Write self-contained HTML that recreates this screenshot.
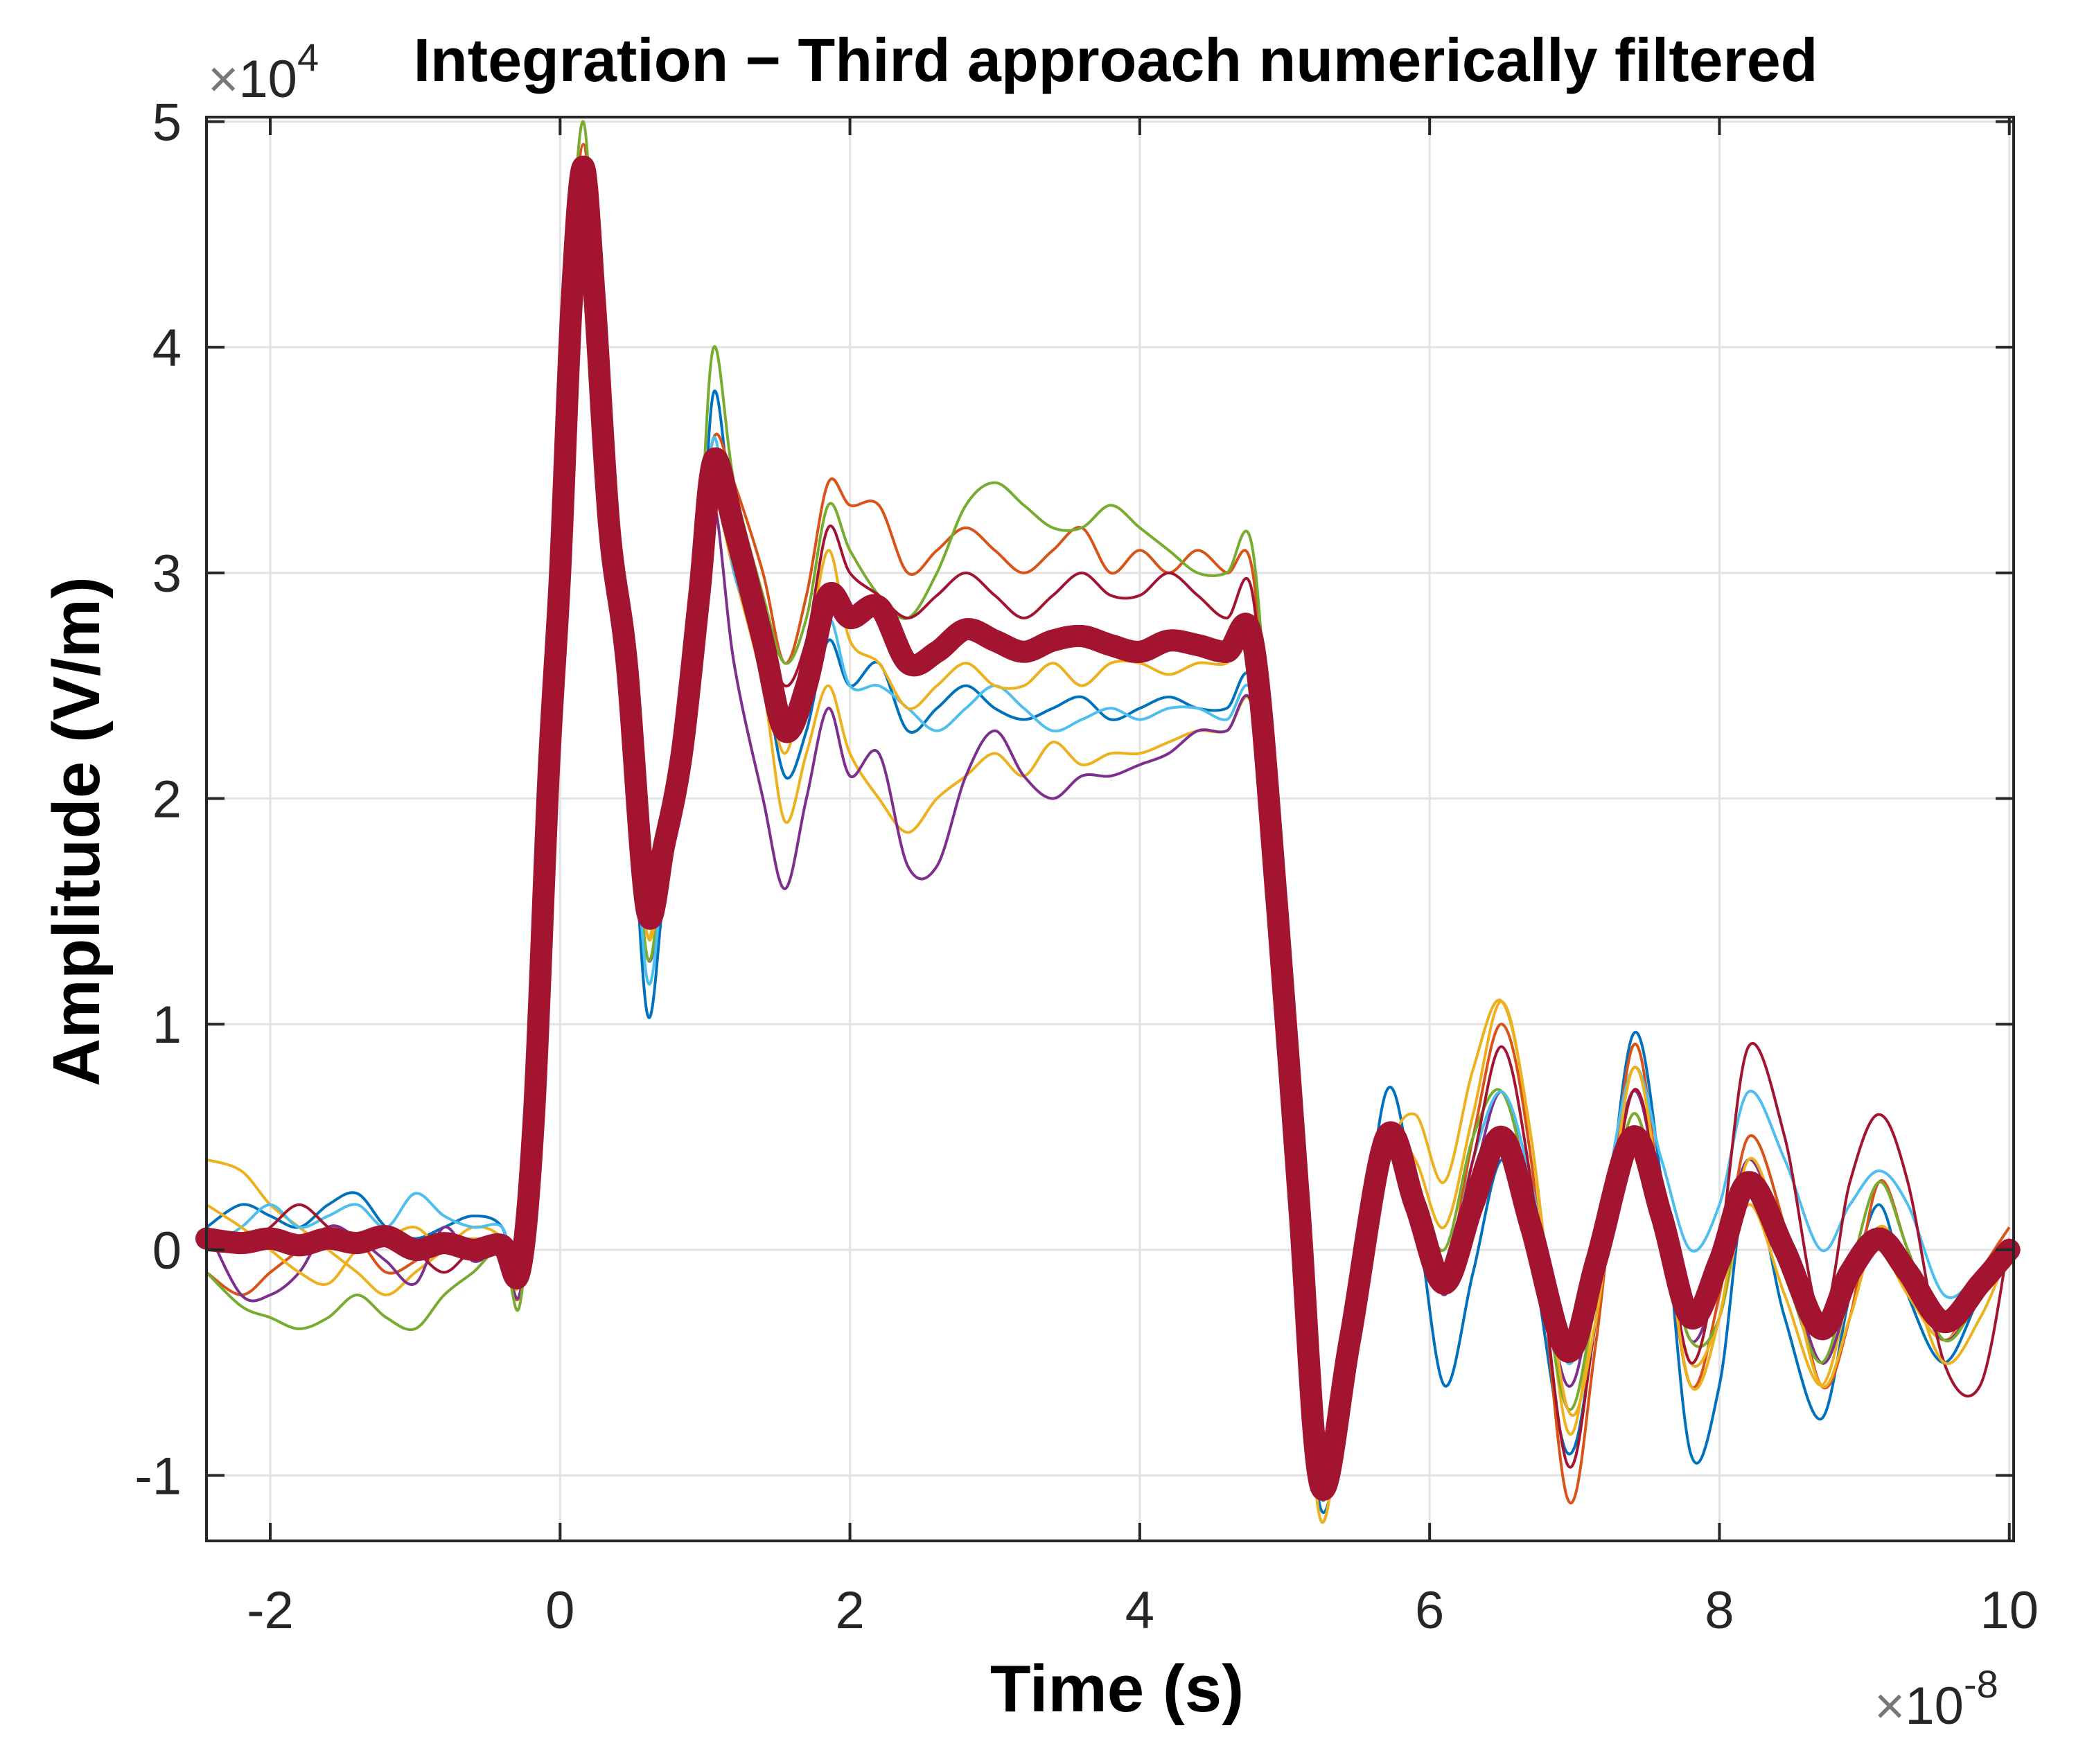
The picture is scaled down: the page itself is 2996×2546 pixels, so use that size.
<!DOCTYPE html>
<html><head><meta charset="utf-8"><style>
html,body{margin:0;padding:0;background:#fff}
svg{display:block}
text{font-family:"Liberation Sans",Arial,sans-serif;fill:#262626}
</style></head><body>
<svg id="chart" width="2996" height="2546" viewBox="0 0 2996 2546" xmlns="http://www.w3.org/2000/svg">
<rect x="0" y="0" width="2996" height="2546" fill="#fff"/>
<g id="grid"></g>
<g id="series"></g>
<g id="axes"></g>
<text x="1610" y="117" text-anchor="middle" font-size="88" font-weight="bold" style="fill:#000">Integration − Third approach numerically filtered</text>
<text x="1612" y="2470" text-anchor="middle" font-size="96" font-weight="bold" style="fill:#000">Time (s)</text>
<text transform="translate(143,1200) rotate(-90)" text-anchor="middle" font-size="96" font-weight="bold" style="fill:#000">Amplitude (V/m)</text>
<text x="300" y="140" font-size="76"><tspan style="fill:#777">×</tspan>10<tspan dy="-38" font-size="56">4</tspan></text>
<text x="2705" y="2488" font-size="76"><tspan style="fill:#777">×</tspan>10<tspan dy="-38" font-size="56">-8</tspan></text>
</svg>
<script>
const T = [-2.44,-2.2,-2.0,-1.8,-1.6,-1.4,-1.2,-1.0,-0.8,-0.6,-0.4,-0.28,-0.18,-0.08,0.0,0.08,0.16,0.24,0.34,0.46,0.6,0.72,0.84,0.96,1.06,1.2,1.4,1.55,1.7,1.85,2.0,2.2,2.4,2.6,2.8,3.0,3.2,3.4,3.6,3.8,4.0,4.2,4.4,4.6,4.78,4.95,5.1,5.25,5.45,5.7,5.9,6.1,6.3,6.5,6.7,6.95,7.15,7.4,7.6,7.8,8.0,8.2,8.45,8.7,8.9,9.1,9.3,9.55,9.8,10.0];
const xTicks = [-2,0,2,4,6,8,10];
const yTicks = [-1,0,1,2,3,4,5];
const s1 = [0.1,0.2,0.15,0.1,0.2,0.25,0.1,0.05,0.1,0.15,0.1,-0.15,0.5,2.0,3.0,4.1,4.7,4.1,3.1,2.4,1.05,1.6,2.0,2.8,3.8,3.2,2.6,2.1,2.3,2.7,2.5,2.6,2.3,2.4,2.5,2.4,2.35,2.4,2.45,2.35,2.4,2.45,2.4,2.4,2.5,1.4,0.1,-1.15,-0.5,0.7,0.2,-0.6,-0.1,0.4,0.0,-0.9,-0.3,0.95,0.3,-0.9,-0.6,0.3,-0.3,-0.75,-0.2,0.2,-0.2,-0.5,-0.2,0.0];
const s2 = [-0.1,-0.2,-0.1,0.0,0.1,0.05,-0.1,-0.05,0.05,0.0,0.0,-0.2,0.6,2.2,3.1,4.3,4.9,4.3,3.3,2.7,1.5,1.8,2.3,3.0,3.6,3.4,3.0,2.6,2.9,3.4,3.3,3.3,3.0,3.1,3.2,3.1,3.0,3.1,3.2,3.0,3.1,3.0,3.1,3.0,3.0,1.6,0.2,-1.1,-0.3,0.5,0.3,-0.1,0.5,1.0,0.4,-1.1,-0.4,0.9,0.2,-0.6,-0.2,0.5,0.1,-0.6,-0.3,0.3,0.0,-0.4,-0.1,0.1];
const s3 = [0.4,0.35,0.2,0.1,0.0,-0.1,-0.2,-0.1,0.0,0.1,0.05,-0.15,0.5,2.0,2.9,4.1,4.8,4.2,3.1,2.5,1.4,1.9,2.3,2.7,3.3,3.0,2.5,1.9,2.2,2.5,2.2,2.0,1.85,2.0,2.1,2.2,2.1,2.25,2.15,2.2,2.2,2.25,2.3,2.3,2.4,1.4,0.1,-1.2,-0.4,0.4,0.6,0.3,0.8,1.1,0.5,-0.8,-0.2,0.6,0.1,-0.5,-0.3,0.2,-0.2,-0.6,-0.2,0.0,-0.2,-0.4,-0.2,0.0];
const s4 = [0.1,-0.2,-0.2,-0.1,0.1,0.05,-0.05,-0.15,0.1,-0.05,0.0,-0.2,0.5,2.0,2.9,4.1,4.8,4.1,3.0,2.4,1.3,1.7,2.1,2.7,3.3,2.6,2.0,1.6,2.0,2.4,2.1,2.2,1.7,1.7,2.1,2.3,2.1,2.0,2.1,2.1,2.15,2.2,2.3,2.3,2.4,1.3,0.0,-1.1,-0.4,0.4,0.3,-0.2,0.3,0.7,0.2,-0.6,-0.1,0.7,0.2,-0.4,-0.1,0.4,0.0,-0.5,-0.2,0.1,-0.1,-0.4,-0.2,0.0];
const s5 = [-0.1,-0.25,-0.3,-0.35,-0.3,-0.2,-0.3,-0.35,-0.2,-0.1,0.0,-0.25,0.6,2.2,3.1,4.4,5.0,4.3,3.2,2.5,1.3,1.8,2.3,3.1,4.0,3.4,2.9,2.6,2.8,3.3,3.1,2.9,2.8,3.0,3.3,3.4,3.3,3.2,3.2,3.3,3.2,3.1,3.0,3.0,3.1,1.6,0.2,-1.1,-0.4,0.5,0.3,0.0,0.5,0.7,0.2,-0.7,-0.2,0.6,0.1,-0.4,-0.3,0.3,-0.1,-0.5,-0.1,0.3,0.0,-0.4,-0.2,0.0];
const s6 = [0.0,0.1,0.2,0.1,0.15,0.2,0.1,0.25,0.15,0.1,0.1,-0.1,0.6,2.1,3.0,4.2,4.8,4.2,3.2,2.5,1.2,1.7,2.1,2.8,3.6,3.0,2.7,2.3,2.4,2.8,2.5,2.5,2.4,2.3,2.4,2.5,2.4,2.3,2.35,2.4,2.35,2.4,2.4,2.35,2.45,1.4,0.1,-1.1,-0.4,0.5,0.3,-0.1,0.4,0.7,0.3,-0.5,0.0,0.8,0.4,0.0,0.2,0.7,0.4,0.0,0.2,0.35,0.2,-0.2,-0.1,0.0];
const s7 = [0.0,0.0,0.1,0.2,0.1,0.0,0.1,0.0,-0.1,0.0,0.0,-0.1,0.6,2.1,3.0,4.2,4.8,4.2,3.2,2.5,1.5,1.9,2.3,2.9,3.4,3.3,2.8,2.5,2.7,3.2,3.0,2.9,2.8,2.9,3.0,2.9,2.8,2.9,3.0,2.9,2.9,3.0,2.9,2.8,2.9,1.5,0.2,-1.05,-0.4,0.4,0.3,-0.1,0.4,0.9,0.3,-0.95,-0.3,0.7,0.2,-0.5,0.0,0.9,0.5,-0.3,0.3,0.6,0.3,-0.5,-0.6,0.05];
const s8 = [0.2,0.1,0.0,-0.1,-0.15,0.0,0.05,0.1,0.0,0.05,0.0,-0.15,0.6,2.1,3.0,4.2,4.8,4.2,3.1,2.6,1.4,1.8,2.3,2.8,3.4,3.2,2.6,2.2,2.6,3.1,2.7,2.6,2.4,2.5,2.6,2.5,2.5,2.6,2.5,2.6,2.6,2.55,2.6,2.6,2.7,1.5,0.1,-1.2,-0.4,0.5,0.4,0.1,0.6,1.1,0.5,-0.7,-0.3,0.8,0.2,-0.6,-0.3,0.4,0.0,-0.6,-0.3,0.1,-0.1,-0.5,-0.3,0.0];
const meanSeries = [0.05,0.03,0.05,0.02,0.05,0.03,0.06,0.0,0.03,0.0,0.02,-0.1,0.6,2.1,3.0,4.2,4.8,4.2,3.2,2.6,1.5,1.8,2.2,2.9,3.5,3.2,2.7,2.3,2.5,2.9,2.8,2.85,2.6,2.65,2.75,2.7,2.65,2.7,2.72,2.68,2.65,2.7,2.68,2.65,2.7,1.5,0.2,-1.05,-0.4,0.5,0.2,-0.15,0.2,0.5,0.1,-0.45,-0.05,0.5,0.15,-0.3,-0.05,0.3,0.0,-0.35,-0.1,0.05,-0.1,-0.32,-0.15,0.0];

const L=298,R=2906,TOP=169,B=2224,XMIN=-2.44,XMAX=10.03,YMIN=-1.29,YMAX=5.02;
const xs=v=>L+(v-XMIN)/(XMAX-XMIN)*(R-L);
const ys=v=>B-(v-YMIN)/(YMAX-YMIN)*(B-TOP);
const NS='http://www.w3.org/2000/svg';
function mk(tag,attrs,parent){const e=document.createElementNS(NS,tag);for(const k in attrs)e.setAttribute(k,attrs[k]);parent.appendChild(e);return e;}
function pathFor(vals){
  const p=T.map((t,i)=>[xs(t),ys(vals[i])]);
  let d='M'+p[0][0].toFixed(1)+','+p[0][1].toFixed(1);
  for(let i=0;i<p.length-1;i++){
    const p0=p[Math.max(0,i-1)],p1=p[i],p2=p[i+1],p3=p[Math.min(p.length-1,i+2)];
    const c1=[p1[0]+(p2[0]-p0[0])/6,p1[1]+(p2[1]-p0[1])/6];
    const c2=[p2[0]-(p3[0]-p1[0])/6,p2[1]-(p3[1]-p1[1])/6];
    d+='C'+c1[0].toFixed(1)+','+c1[1].toFixed(1)+' '+c2[0].toFixed(1)+','+c2[1].toFixed(1)+' '+p2[0].toFixed(1)+','+p2[1].toFixed(1);
  }
  return d;
}
const grid=document.getElementById('grid');
xTicks.forEach(v=>{const l=mk('line',{x1:xs(v),x2:xs(v),y1:TOP,y2:B,stroke:'#e3e3e3','stroke-width':3},grid);

});
yTicks.forEach(v=>{const l=mk('line',{x1:L,x2:R,y1:ys(v),y2:ys(v),stroke:'#e3e3e3','stroke-width':3},grid);

});

const sg=document.getElementById('series');
const thin=[[s1,'#0072BD'],[s2,'#D95319'],[s3,'#EDB120'],[s4,'#7E2F8E'],[s5,'#77AC30'],[s6,'#4DBEEE'],[s7,'#A2142F'],[s8,'#EDB120']];
thin.forEach((s,i)=>{const p=mk('path',{d:pathFor(s[0]),fill:'none',stroke:s[1],'stroke-width':4,'stroke-linejoin':'round'},sg);

});
const mp=mk('path',{d:pathFor(meanSeries),fill:'none',stroke:'#A2142F','stroke-width':32,'stroke-linejoin':'round','stroke-linecap':'round'},sg);



const ax=document.getElementById('axes');
const box=mk('rect',{x:L,y:TOP,width:R-L,height:B-TOP,fill:'none',stroke:'#262626','stroke-width':4},ax);


xTicks.forEach(v=>{
  mk('line',{x1:xs(v),x2:xs(v),y1:B,y2:B-26,stroke:'#262626','stroke-width':4},ax);
  mk('line',{x1:xs(v),x2:xs(v),y1:TOP,y2:TOP+26,stroke:'#262626','stroke-width':4},ax);
  const t=mk('text',{x:xs(v),y:2350,'text-anchor':'middle','font-size':76},ax);
  t.textContent=String(v);
  
  
});
yTicks.forEach(v=>{
  mk('line',{x1:L,x2:L+26,y1:ys(v),y2:ys(v),stroke:'#262626','stroke-width':4},ax);
  mk('line',{x1:R,x2:R-26,y1:ys(v),y2:ys(v),stroke:'#262626','stroke-width':4},ax);
  const t=mk('text',{x:262,y:ys(v)+27,'text-anchor':'end','font-size':76},ax);
  t.textContent=String(v);
  
  
});
</script>
</body></html>
